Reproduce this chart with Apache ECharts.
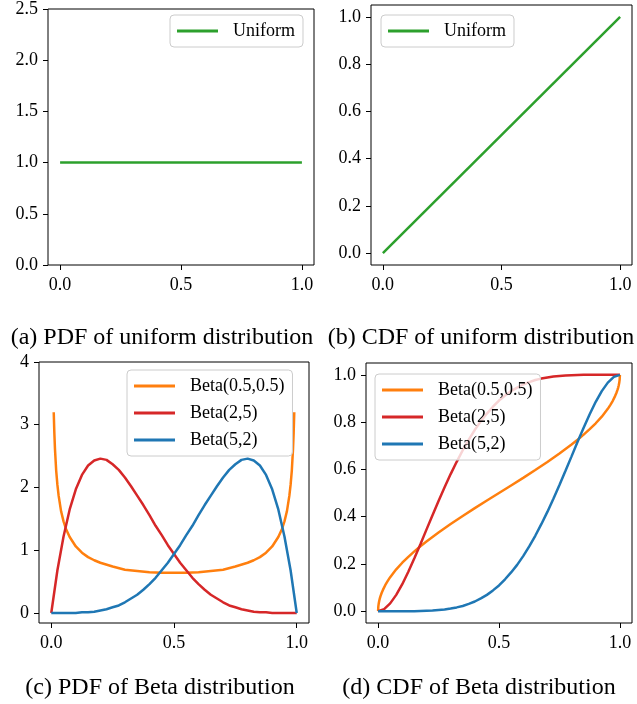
<!DOCTYPE html>
<html>
<head>
<meta charset="utf-8">
<script src="https://cdn.jsdelivr.net/npm/echarts@6/dist/echarts.min.js"></script>
<style>
  html, body { margin: 0; padding: 0; background: #fff; }
  #main { width: 637px; height: 704px; }
</style>
</head>
<body>
<div id="main"></div>
<script>
// values
var xUniform = [0, 1];
var uniformPdf = [1, 1];
var uniformCdf = [0, 1];

// x positions for Beta(2,5) and Beta(5,2)
var xBeta = [0, 0.025, 0.05, 0.075, 0.1, 0.125, 0.15, 0.175, 0.2, 0.225, 0.25,
             0.275, 0.3, 0.325, 0.35, 0.375, 0.4, 0.425, 0.45, 0.475, 0.5,
             0.525, 0.55, 0.575, 0.6, 0.625, 0.65, 0.675, 0.7, 0.725, 0.75,
             0.775, 0.8, 0.825, 0.85, 0.875, 0.9, 0.925, 0.95, 0.975, 1];
var pdfBeta25 = [0, 0.68, 1.22, 1.65, 1.97, 2.20, 2.35, 2.43, 2.46, 2.44, 2.37,
                 2.28, 2.16, 2.02, 1.87, 1.72, 1.56, 1.39, 1.24, 1.08, 0.94,
                 0.80, 0.68, 0.56, 0.46, 0.37, 0.29, 0.23, 0.17, 0.12, 0.09,
                 0.06, 0.04, 0.02, 0.01, 0.01, 0.00, 0.00, 0.00, 0.00, 0];
var pdfBeta52 = [0, 0.00, 0.00, 0.00, 0.00, 0.01, 0.01, 0.02, 0.04, 0.06, 0.09,
                 0.12, 0.17, 0.23, 0.29, 0.37, 0.46, 0.56, 0.68, 0.80, 0.94,
                 1.08, 1.24, 1.39, 1.56, 1.72, 1.87, 2.02, 2.16, 2.28, 2.37,
                 2.44, 2.46, 2.43, 2.35, 2.20, 1.97, 1.65, 1.22, 0.68, 0];
var cdfBeta25 = [0, 0.009, 0.033, 0.069, 0.114, 0.167, 0.224, 0.283, 0.345, 0.406, 0.466,
                 0.524, 0.580, 0.632, 0.681, 0.726, 0.767, 0.804, 0.836, 0.865, 0.891,
                 0.912, 0.931, 0.946, 0.959, 0.969, 0.978, 0.984, 0.989, 0.993, 0.995,
                 0.997, 0.998, 0.999, 1.000, 1.000, 1.000, 1.000, 1.000, 1.000, 1];
var cdfBeta52 = [0, 0.000, 0.000, 0.000, 0.000, 0.000, 0.000, 0.001, 0.002, 0.003, 0.005,
                 0.007, 0.011, 0.016, 0.022, 0.031, 0.041, 0.054, 0.069, 0.088, 0.109,
                 0.135, 0.164, 0.196, 0.233, 0.274, 0.319, 0.368, 0.420, 0.476, 0.534,
                 0.594, 0.655, 0.717, 0.776, 0.833, 0.886, 0.931, 0.967, 0.991, 1];

// Beta(0.5,0.5) pdf, drawn from 0.01 to 0.99
var xPdfHalf = [0.01, 0.0125, 0.015, 0.02, 0.025, 0.03, 0.04, 0.05, 0.06, 0.075,
                0.1, 0.125, 0.15, 0.175, 0.2, 0.25, 0.3, 0.35, 0.4, 0.45, 0.5,
                0.55, 0.6, 0.65, 0.7, 0.75, 0.8, 0.825, 0.85, 0.875, 0.9, 0.925,
                0.94, 0.95, 0.96, 0.97, 0.975, 0.98, 0.985, 0.9875, 0.99];
var pdfHalf = [3.20, 2.87, 2.62, 2.27, 2.04, 1.87, 1.62, 1.46, 1.34, 1.21,
               1.06, 0.96, 0.89, 0.84, 0.80, 0.74, 0.69, 0.67, 0.65, 0.64, 0.64,
               0.64, 0.65, 0.67, 0.69, 0.74, 0.80, 0.84, 0.89, 0.96, 1.06, 1.21,
               1.34, 1.46, 1.62, 1.87, 2.04, 2.27, 2.62, 2.87, 3.20];
var xCdfHalf = [0, 0.001, 0.002, 0.003, 0.005, 0.0075, 0.01, 0.015, 0.02, 0.03,
                0.04, 0.05, 0.075, 0.1, 0.125, 0.15, 0.175, 0.2, 0.25, 0.3,
                0.35, 0.4, 0.45, 0.5, 0.55, 0.6, 0.65, 0.7, 0.75, 0.8,
                0.825, 0.85, 0.875, 0.9, 0.925, 0.95, 0.96, 0.97, 0.98, 0.985,
                0.99, 0.9925, 0.995, 0.997, 0.998, 0.999, 1];
var cdfHalf = [0, 0.020, 0.028, 0.035, 0.045, 0.055, 0.064, 0.078, 0.090, 0.111,
               0.128, 0.144, 0.177, 0.205, 0.230, 0.253, 0.275, 0.295, 0.333, 0.369,
               0.403, 0.436, 0.468, 0.5, 0.532, 0.564, 0.597, 0.631, 0.667, 0.705,
               0.725, 0.747, 0.770, 0.795, 0.823, 0.856, 0.872, 0.889, 0.910, 0.922,
               0.936, 0.945, 0.955, 0.965, 0.972, 0.980, 1];

var xTicks = [0, 0.5, 1];
var yTicksA = [0, 0.5, 1, 1.5, 2, 2.5];
var yTicksCdf = [0, 0.2, 0.4, 0.6, 0.8, 1];
var yTicksC = [0, 1, 2, 3, 4];

var captions = ['(a) PDF of uniform distribution', '(b) CDF of uniform distribution',
                '(c) PDF of Beta distribution', '(d) CDF of Beta distribution'];

var GREEN = '#2ca02c', ORANGE = '#ff7f0e', RED = '#d62728', BLUE = '#1f77b4';
var FONT = 'Liberation Serif';

function zip(xs, ys) {
  return xs.map(function (x, i) { return [x, ys[i]]; });
}

function xAxis(gi) {
  return {
    type: 'value', gridIndex: gi, min: -0.05, max: 1.05,
    splitLine: { show: false },
    axisLine: { show: false, onZero: false },
    axisTick: { show: true, length: 5, lineStyle: { color: '#000' }, customValues: xTicks },
    axisLabel: { color: '#000', fontFamily: FONT, fontSize: 18, margin: 11,
                 customValues: xTicks, formatter: function (v) { return v.toFixed(1); } }
  };
}

function yAxis(gi, min, max, ticks, digits) {
  return {
    type: 'value', gridIndex: gi, min: min, max: max,
    splitLine: { show: false },
    axisLine: { show: false, onZero: false },
    axisTick: { show: true, length: 5, lineStyle: { color: '#000' }, customValues: ticks },
    axisLabel: { color: '#000', fontFamily: FONT, fontSize: 18, margin: 10,
                 customValues: ticks, formatter: function (v) { return v.toFixed(digits); } }
  };
}

function line(name, gi, data, color) {
  return {
    name: name, type: 'line', xAxisIndex: gi, yAxisIndex: gi,
    data: data, color: color, showSymbol: false, symbol: 'none',
    lineStyle: { width: 2.5, color: color },
    emphasis: { disabled: true }, animation: false
  };
}

function legend(left, top, names) {
  return {
    left: left, top: top, orient: 'vertical', data: names,
    icon: 'rect', itemWidth: 41, itemHeight: 3, itemGap: 7,
    padding: [6, 8, 6, 7],
    backgroundColor: 'rgba(255,255,255,0.8)', borderColor: '#cccccc',
    borderWidth: 1, borderRadius: 4, selectedMode: false,
    textStyle: { color: '#000', fontFamily: FONT, fontSize: 18, lineHeight: 20, padding: [0, 0, 0, 10] }
  };
}

var gridStyle = { show: true, borderColor: '#000', borderWidth: 1, backgroundColor: 'transparent' };

function caption(text, x, y) {
  return { type: 'text', x: x, y: y,
           style: { text: text, font: '24px "Liberation Serif"', fill: '#000', align: 'center', verticalAlign: 'middle' } };
}

var chart = echarts.init(document.getElementById('main'));
var option = {
  animation: false,
  backgroundColor: '#fff',
  grid: [
    Object.assign({ left: 48, top: 5, width: 266, height: 260 }, gridStyle),
    Object.assign({ left: 371, top: 5, width: 261, height: 260 }, gridStyle),
    Object.assign({ left: 39, top: 362, width: 270, height: 261 }, gridStyle),
    Object.assign({ left: 366, top: 363, width: 266, height: 260 }, gridStyle)
  ],
  xAxis: [xAxis(0), xAxis(1), xAxis(2), xAxis(3)],
  yAxis: [
    yAxis(0, 0, 2.5, yTicksA, 1),
    yAxis(1, -0.05, 1.05, yTicksCdf, 1),
    yAxis(2, -0.16, 4, yTicksC, 0),
    yAxis(3, -0.05, 1.05, yTicksCdf, 1)
  ],
  legend: [
    legend(170, 15, ['Uniform']),
    legend(381, 15, ['Uniform']),
    legend(127, 370, ['Beta(0.5,0.5)', 'Beta(2,5)', 'Beta(5,2)']),
    legend(375, 374, ['Beta(0.5,0.5)', 'Beta(2,5)', 'Beta(5,2)'])
  ],
  series: [
    line('Uniform', 0, zip(xUniform, uniformPdf), GREEN),
    line('Uniform', 1, zip(xUniform, uniformCdf), GREEN),
    line('Beta(0.5,0.5)', 2, zip(xPdfHalf, pdfHalf), ORANGE),
    line('Beta(2,5)', 2, zip(xBeta, pdfBeta25), RED),
    line('Beta(5,2)', 2, zip(xBeta, pdfBeta52), BLUE),
    line('Beta(0.5,0.5)', 3, zip(xCdfHalf, cdfHalf), ORANGE),
    line('Beta(2,5)', 3, zip(xBeta, cdfBeta25), RED),
    line('Beta(5,2)', 3, zip(xBeta, cdfBeta52), BLUE)
  ],
  graphic: [
    caption(captions[0], 162, 338),
    caption(captions[1], 481, 338),
    caption(captions[2], 160, 688),
    caption(captions[3], 479, 688)
  ]
};
option && chart.setOption(option);
</script>
</body>
</html>
